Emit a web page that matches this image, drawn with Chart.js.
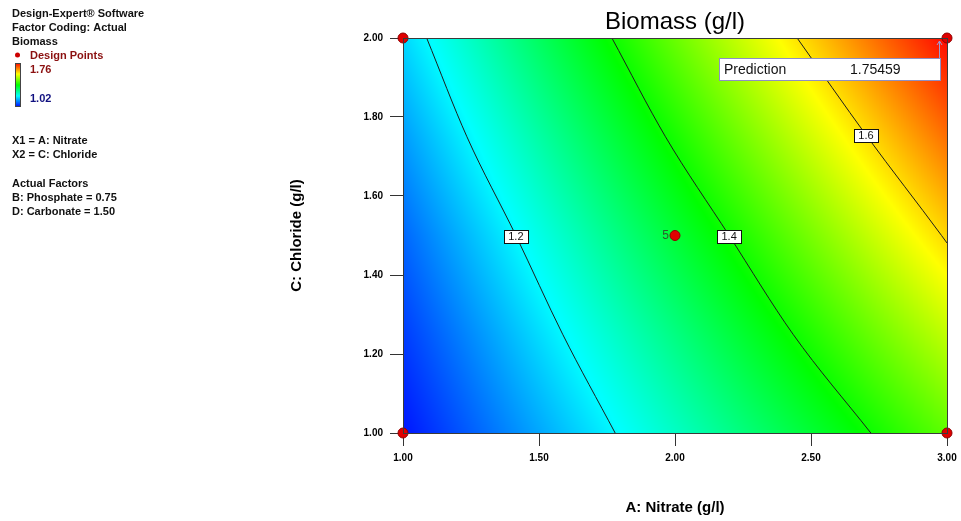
<!DOCTYPE html>
<html><head><meta charset="utf-8">
<script src="https://cdn.jsdelivr.net/npm/chart.js@4.4.1/dist/chart.umd.min.js"></script>
<style>html,body{margin:0;padding:0;background:#fff;overflow:hidden}canvas{display:block}</style>
</head><body>
<canvas id="c" width="961" height="521"></canvas>
<script>
// ---------- data ----------
const nitrate  = [1.00, 1.25, 1.50, 1.75, 2.00, 2.25, 2.50, 2.75, 3.00];
const chloride = [1.00, 1.25, 1.50, 1.75, 2.00];
const biomassC100 = [1.035, 1.088, 1.141, 1.194, 1.247, 1.300, 1.352, 1.405, 1.458];
const biomassC125 = [1.063, 1.121, 1.180, 1.238, 1.296, 1.355, 1.413, 1.472, 1.530];
const biomassC150 = [1.094, 1.158, 1.222, 1.286, 1.350, 1.413, 1.477, 1.541, 1.605];
const biomassC175 = [1.133, 1.201, 1.270, 1.338, 1.406, 1.475, 1.543, 1.611, 1.680];
const biomassC200 = [1.176, 1.248, 1.321, 1.393, 1.466, 1.538, 1.610, 1.683, 1.755];
const colorMin = 1.02, colorMax = 1.76;

const contourLevels = ['1.2', '1.4', '1.6'];
const contour12Nitrate  = [1.087, 1.235, 1.415, 1.587, 1.780];
const contour12Chloride = [2.00, 1.75, 1.50, 1.25, 1.00];
const contour14Nitrate  = [1.768, 1.965, 2.199, 2.434, 2.720];
const contour14Chloride = [2.00, 1.75, 1.50, 1.25, 1.00];
const contour16Nitrate  = [2.449, 2.707, 2.980, 3.000];
const contour16Chloride = [2.00, 1.75, 1.50, 1.481];
const labelNitrate  = [1.415, 2.199, 2.702];
const labelChloride = [1.50, 1.50, 1.754];

const designNitrate  = [1.00, 3.00, 1.00, 3.00, 2.00];
const designChloride = [1.00, 1.00, 2.00, 2.00, 1.50];
const designRuns     = [1, 1, 1, 1, 5];

const predictionLabel = 'Prediction';
const predictionValue = '1.75459';

const xTickValues = [1.00, 1.50, 2.00, 2.50, 3.00];
const xTickLabels = ['1.00', '1.50', '2.00', '2.50', '3.00'];
const yTickValues = [1.00, 1.20, 1.40, 1.60, 1.80, 2.00];
const yTickLabels = ['1.00', '1.20', '1.40', '1.60', '1.80', '2.00'];

const infoLines = ['Design-Expert\u00AE Software', 'Factor Coding: Actual', 'Biomass'];
const factorLines = ['X1 = A: Nitrate', 'X2 = C: Chloride'];
const actualLines = ['Actual Factors', 'B: Phosphate = 0.75', 'D: Carbonate = 1.50'];

// ---------- helpers ----------
const FONT = '"Liberation Sans", Arial, sans-serif';
const biomassRows = [biomassC100, biomassC125, biomassC150, biomassC175, biomassC200];
function seg(arr, v) {
  let i = 0;
  while (i < arr.length - 2 && v > arr[i + 1]) i++;
  return i;
}
function fieldAt(a, c) {
  const i = seg(nitrate, a), j = seg(chloride, c);
  const ta = Math.min(1, Math.max(0, (a - nitrate[i]) / (nitrate[i + 1] - nitrate[i])));
  const tc = Math.min(1, Math.max(0, (c - chloride[j]) / (chloride[j + 1] - chloride[j])));
  const r0 = biomassRows[j], r1 = biomassRows[j + 1];
  const v0 = r0[i] + (r0[i + 1] - r0[i]) * ta;
  const v1 = r1[i] + (r1[i + 1] - r1[i]) * ta;
  return v0 + (v1 - v0) * tc;
}
const stops = [[0, 0, 0, 255], [0.25, 0, 255, 255], [0.5, 0, 255, 0], [0.75, 255, 255, 0], [1, 255, 0, 0]];
function colorFor(v) {
  let t = (v - colorMin) / (colorMax - colorMin);
  t = Math.min(1, Math.max(0, t));
  for (let k = 0; k < stops.length - 1; k++) {
    const s0 = stops[k], s1 = stops[k + 1];
    if (t <= s1[0]) {
      const u = (t - s0[0]) / (s1[0] - s0[0]);
      return [s0[1] + (s1[1] - s0[1]) * u, s0[2] + (s1[2] - s0[2]) * u, s0[3] + (s1[3] - s0[3]) * u];
    }
  }
  return [255, 0, 0];
}
const pts = (xs, ys) => xs.map((x, i) => ({ x: x, y: ys[i] }));

// ---------- plugins ----------
const heatPlugin = {
  id: 'heat',
  beforeDatasetsDraw(chart) {
    const { ctx, chartArea, scales } = chart;
    const L = Math.round(chartArea.left), T = Math.round(chartArea.top);
    const w = Math.round(chartArea.right) - L, h = Math.round(chartArea.bottom) - T;
    const img = ctx.createImageData(w, h);
    for (let j = 0; j < h; j++) {
      const c = scales.y.getValueForPixel(T + j + 0.5);
      for (let i = 0; i < w; i++) {
        const a = scales.x.getValueForPixel(L + i + 0.5);
        const col = colorFor(fieldAt(a, c));
        const p = (j * w + i) * 4;
        img.data[p] = col[0]; img.data[p + 1] = col[1]; img.data[p + 2] = col[2]; img.data[p + 3] = 255;
      }
    }
    ctx.putImageData(img, L, T);
  }
};

const decorPlugin = {
  id: 'decor',
  afterDatasetsDraw(chart) {
    const { ctx, chartArea, scales } = chart;
    const x = scales.x, y = scales.y;
    ctx.save();
    // frame
    ctx.strokeStyle = '#3a3a3a';
    ctx.lineWidth = 1;
    const L = Math.round(chartArea.left), T = Math.round(chartArea.top);
    const R = Math.round(chartArea.right), B = Math.round(chartArea.bottom);
    ctx.strokeRect(L + 0.5, T + 0.5, R - L, B - T);
    // contour labels
    ctx.font = '11px ' + FONT;
    ctx.textAlign = 'center';
    ctx.textBaseline = 'middle';
    contourLevels.forEach((lab, k) => {
      const px = x.getPixelForValue(labelNitrate[k]);
      const py = y.getPixelForValue(labelChloride[k]);
      ctx.fillStyle = '#fff';
      ctx.fillRect(Math.round(px - 12) + 0.5, Math.round(py - 6) + 0.5, 24, 13);
      ctx.strokeStyle = '#111';
      ctx.strokeRect(Math.round(px - 12) + 0.5, Math.round(py - 6) + 0.5, 24, 13);
      ctx.fillStyle = '#111';
      ctx.fillText(lab, px, py + 1);
    });
    // replicate count labels
    ctx.font = '12px ' + FONT;
    ctx.textAlign = 'right';
    ctx.fillStyle = '#2f5a2f';
    designRuns.forEach((n, k) => {
      if (n > 1) {
        ctx.fillText(String(n), x.getPixelForValue(designNitrate[k]) - 6, y.getPixelForValue(designChloride[k]));
      }
    });
    ctx.restore();
  },
  afterDraw(chart) {
    const { ctx, chartArea, scales } = chart;
    const x = scales.x, y = scales.y;
    ctx.save();
    // prediction flag
    const fx = x.getPixelForValue(designNitrate[3]) - 8;
    const fy = y.getPixelForValue(designChloride[3]);
    ctx.strokeStyle = '#9b9bd2';
    ctx.lineWidth = 1;
    ctx.beginPath();
    ctx.moveTo(Math.round(fx) + 0.5, 59);
    ctx.lineTo(Math.round(fx) + 0.5, fy + 3);
    ctx.stroke();
    ctx.beginPath();
    ctx.moveTo(Math.round(fx) - 2, fy + 7);
    ctx.lineTo(Math.round(fx) + 0.5, fy + 3);
    ctx.lineTo(Math.round(fx) + 3, fy + 7);
    ctx.stroke();
    ctx.fillStyle = '#fff';
    ctx.fillRect(719.5, 58.5, 221, 22);
    ctx.strokeStyle = '#8f8fc4';
    ctx.strokeRect(719.5, 58.5, 221, 22);
    ctx.fillStyle = '#111';
    ctx.font = '14px ' + FONT;
    ctx.textAlign = 'left';
    ctx.textBaseline = 'middle';
    ctx.fillText(predictionLabel, 724, 70);
    ctx.fillText(predictionValue, 850, 70);

    // title
    ctx.font = '24px ' + FONT;
    ctx.textAlign = 'center';
    ctx.textBaseline = 'alphabetic';
    ctx.fillStyle = '#000';
    ctx.fillText('Biomass (g/l)', (chartArea.left + chartArea.right) / 2, 29);

    // left info panel
    ctx.textAlign = 'left';
    ctx.font = 'bold 11px ' + FONT;
    ctx.fillStyle = '#111';
    infoLines.forEach((t, i) => ctx.fillText(t, 12, 17 + i * 14));
    // design points legend
    ctx.fillStyle = '#cc0000';
    ctx.beginPath(); ctx.arc(17.5, 55, 2.5, 0, Math.PI * 2); ctx.fill();
    ctx.fillStyle = '#8b1010';
    ctx.fillText('Design Points', 30, 59);
    // colour bar
    const g = ctx.createLinearGradient(0, 63, 0, 107);
    stops.slice().reverse().forEach(s => g.addColorStop(1 - s[0], 'rgb(' + s[1] + ',' + s[2] + ',' + s[3] + ')'));
    ctx.fillStyle = g;
    ctx.fillRect(15, 63, 6, 44);
    ctx.strokeStyle = '#444';
    ctx.strokeRect(15.5, 63.5, 5, 43);
    ctx.fillStyle = '#8b1010';
    ctx.fillText(colorMax.toFixed(2), 30, 73);
    ctx.fillStyle = '#101080';
    ctx.fillText(colorMin.toFixed(2), 30, 102);
    ctx.fillStyle = '#111';
    factorLines.forEach((t, i) => ctx.fillText(t, 12, 144 + i * 14));
    actualLines.forEach((t, i) => ctx.fillText(t, 12, 187 + i * 14));
    ctx.restore();
  }
};

// ---------- chart ----------
const contourStyle = {
  type: 'line', showLine: true, borderColor: '#1e1e1e', borderWidth: 1,
  pointRadius: 0, cubicInterpolationMode: 'monotone', fill: false
};

new Chart(document.getElementById('c'), {
  type: 'scatter',
  data: {
    datasets: [
      Object.assign({ label: '1.2', data: pts(contour12Nitrate, contour12Chloride) }, contourStyle),
      Object.assign({ label: '1.4', data: pts(contour14Nitrate, contour14Chloride) }, contourStyle),
      Object.assign({ label: '1.6', data: pts(contour16Nitrate, contour16Chloride) }, contourStyle),
      {
        label: 'Design Points', data: pts(designNitrate, designChloride),
        backgroundColor: '#e00000', borderColor: '#900000', borderWidth: 1,
        pointRadius: 5, pointHoverRadius: 5, clip: false
      }
    ]
  },
  options: {
    responsive: false, animation: false, devicePixelRatio: 1,
    layout: { padding: { left: 0, top: 38, right: 14, bottom: 0 } },
    plugins: { legend: { display: false }, title: { display: false }, tooltip: { enabled: false } },
    scales: {
      x: {
        type: 'linear', min: 1, max: 3,
        afterBuildTicks: s => { s.ticks = xTickValues.map(v => ({ value: v })); },
        afterFit: s => { s.height = 88; s.paddingLeft = 0; s.paddingRight = 0; },
        ticks: {
          autoSkip: false, maxRotation: 0, padding: 6, color: '#000',
          font: { family: FONT, size: 10, weight: 'bold' },
          callback: (v, i) => xTickLabels[i]
        },
        grid: { drawOnChartArea: false, drawTicks: true, tickLength: 13, color: '#333' },
        border: { display: true, color: '#333' },
        title: {
          display: true, text: 'A: Nitrate (g/l)', color: '#000',
          font: { family: FONT, size: 15, weight: 'bold' }, padding: { top: 0, bottom: 4 }
        }
      },
      y: {
        type: 'linear', min: 1, max: 2,
        afterBuildTicks: s => { s.ticks = yTickValues.map(v => ({ value: v })); },
        afterFit: s => { s.width = 403; s.paddingTop = 0; s.paddingBottom = 0; },
        ticks: {
          autoSkip: false, padding: 7, color: '#000',
          font: { family: FONT, size: 10, weight: 'bold' },
          callback: (v, i) => yTickLabels[i]
        },
        grid: { drawOnChartArea: false, drawTicks: true, tickLength: 13, color: '#333' },
        border: { display: true, color: '#333' },
        title: {
          display: true, text: 'C: Chloride (g/l)', color: '#000',
          font: { family: FONT, size: 15, weight: 'bold' }, padding: { top: 288, bottom: 0 }
        }
      }
    }
  },
  plugins: [heatPlugin, decorPlugin]
});
</script>
</body></html>
